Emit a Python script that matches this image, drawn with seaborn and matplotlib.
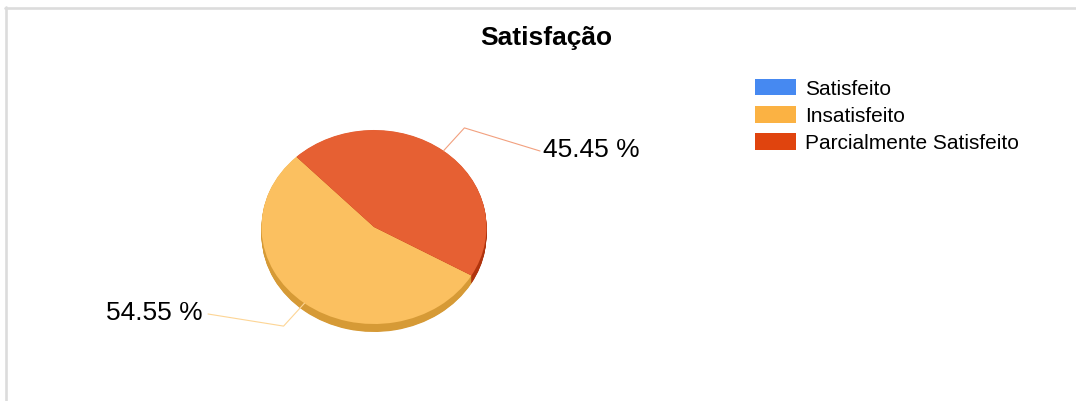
import matplotlib
matplotlib.use('Agg')
import matplotlib.pyplot as plt
from matplotlib.patches import Patch
from matplotlib.lines import Line2D
import seaborn as sns
import numpy as np

# ---- data ----
categories = ['Satisfeito', 'Insatisfeito', 'Parcialmente Satisfeito']
values = [0.0, 54.55, 45.45]
title = 'Satisfação'

# ---- styles ----
legend_colors = ['#4689F1', '#FBB243', '#E0440E']
face_colors = ['#5B96F2', '#FBC060', '#E66033']
side_colors = ['#2F6CC8', '#D69A36', '#B0340E']
line_colors = ['#9FC0F5', '#FDD595', '#F2A07E']

sns.set_theme(style='white')
plt.rcParams['font.family'] = ['Liberation Sans', 'DejaVu Sans']
plt.rcParams['text.color'] = 'black'

W, H = 1076, 402
fig = plt.figure(figsize=(W / 100, H / 100), dpi=100)
fig.patch.set_facecolor('white')
ax = fig.add_axes([0, 0, 1, 1])

# pie geometry in pixels (layout)
CX, CY, RX, RY = 374, 228, 112.5, 97
def px(x, y):
    return ((x - CX) / RX, (CY - y) / RY)

START = -30
depth = 8 / RY
for k in np.linspace(depth, 0.005, 14):
    ax.pie(values, colors=side_colors, startangle=START, counterclock=False,
           center=(0, -k), radius=1, wedgeprops=dict(linewidth=0))
wedges, _ = ax.pie(values, colors=face_colors, startangle=START, counterclock=False,
                   center=(0, 0), radius=1, wedgeprops=dict(linewidth=0))

ax.set_aspect('auto')
ax.set_xlim((0 - CX) / RX, (W - CX) / RX)
ax.set_ylim((CY - H) / RY, (CY - 0) / RY)
ax.axis('off')

# labels with leader lines
label_end = {1: (208, 315), 2: (540, 152)}
label_text_pos = {1: (203, 313), 2: (543, 150)}
for i, (w, v) in enumerate(zip(wedges, values)):
    if v <= 0:
        continue
    th = np.deg2rad((w.theta1 + w.theta2) / 2)
    c, s = np.cos(th), np.sin(th)
    x0, y0 = c, s
    x1, y1 = 1.3 * c, 1.3 * s
    x2, y2 = px(*label_end[i])
    ax.plot([x0, x1, x2], [y0, y1, y2], color=line_colors[i], lw=0.8,
            solid_joinstyle='miter', zorder=5)
    tx, ty = px(*label_text_pos[i])
    ax.text(tx, ty, f'{v:.2f} %', fontsize=19, color='black',
            ha='left' if c > 0 else 'right', va='center', zorder=6)

# title
fig.text(546 / W, 1 - 38 / H, title, fontsize=19, fontweight='bold',
         ha='center', va='center', color='black')

# legend
handles = [Patch(facecolor=col, edgecolor='none') for col in legend_colors]
leg = fig.legend(handles, categories, loc='upper left',
                 bbox_to_anchor=(755 / W, 1 - 79.5 / H), bbox_transform=fig.transFigure,
                 frameon=False, fontsize=15, handlelength=1.97, handleheight=0.87,
                 handletextpad=0.43, labelspacing=0.36, borderaxespad=0, borderpad=0)
for t in leg.get_texts():
    t.set_color('black')

# frame lines
fig.add_artist(Line2D([5 / W, 1], [1 - 9.2 / H, 1 - 9.2 / H], transform=fig.transFigure,
                      color='#DCDCDC', lw=1.9))
fig.add_artist(Line2D([6.3 / W, 6.3 / W], [1 - 8 / H, 0], transform=fig.transFigure,
                      color='#DCDCDC', lw=1.9))

fig.savefig('out.png', dpi=100)
